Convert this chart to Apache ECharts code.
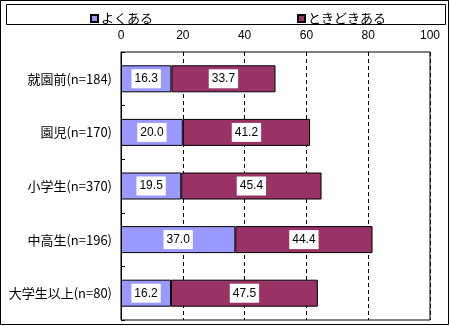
<!DOCTYPE html>
<html><head><meta charset="utf-8">
<script src="https://cdn.jsdelivr.net/npm/echarts@6/dist/echarts.min.js"></script>
<style>html,body{margin:0;padding:0;background:#fff}#c{width:450px;height:326px}</style>
</head><body><div id="c"></div>
<script>
var categories = ['就園前(n=184)', '園児(n=170)', '小学生(n=370)', '中高生(n=196)', '大学生以上(n=80)'];
var seriesNames = ['よくある', 'ときどきある'];
var often = [16.3, 20.0, 19.5, 37.0, 16.2];
var sometimes = [33.7, 41.2, 45.4, 44.4, 47.5];
var xTicks = [0, 20, 40, 60, 80, 100];

var font = '"Noto Sans CJK JP", "Noto Sans", sans-serif';
var chart = echarts.init(document.getElementById('c'), null, {renderer: 'canvas'});
var lbl = {
  show: true, position: 'inside', color: '#000', fontSize: 12, fontFamily: 'Arial, "Liberation Sans", sans-serif',
  backgroundColor: '#fff', padding: [4, 3, 3, 3],
  formatter: function (p) { return p.value.toFixed(1); }
};
chart.setOption({
  animation: false,
  textStyle: {fontFamily: font},
  graphic: [
    {type: 'rect', shape: {x: 0.5, y: 0.5, width: 448, height: 324}, style: {fill: 'none', stroke: '#000', lineWidth: 1}, z: -1},
    {type: 'rect', shape: {x: 6.5, y: 4.5, width: 439, height: 20}, style: {fill: 'none', stroke: '#000', lineWidth: 1}, z: -1}
  ],
  legend: [
    {data: [seriesNames[0]], left: 85, top: 7, itemWidth: 7, itemHeight: 7, icon: 'rect', itemGap: 4,
     textStyle: {color: '#000', fontSize: 13, fontFamily: font, padding: [0, 0, 0, -2]}},
    {data: [seriesNames[1]], left: 292, top: 7, itemWidth: 7, itemHeight: 7, icon: 'rect', itemGap: 4,
     textStyle: {color: '#000', fontSize: 13, fontFamily: font, padding: [0, 0, 0, -2]}}
  ],
  grid: {left: 121, top: 52, width: 309, height: 268, show: true, borderColor: '#000', borderWidth: 1, containLabel: false},
  xAxis: {
    type: 'value', position: 'top', min: 0, max: 100, interval: 20,
    axisLine: {show: false}, axisTick: {show: false},
    axisLabel: {color: '#000', fontSize: 12, margin: 10, fontFamily: 'Arial, "Liberation Sans", sans-serif',
      formatter: function (v) { return xTicks.indexOf(v) >= 0 ? String(v) : ''; }},
    splitLine: {show: true, lineStyle: {color: '#000', type: [4, 3], width: 1}}
  },
  yAxis: {
    type: 'category', inverse: true, data: categories,
    axisLine: {show: true, lineStyle: {color: '#000'}},
    axisTick: {show: true, inside: true, length: 4, lineStyle: {color: '#000'}},
    axisLabel: {color: '#000', fontSize: 13, margin: 9, fontFamily: font}
  },
  series: [
    {name: seriesNames[0], type: 'bar', stack: 's', data: often, barWidth: 27,
     itemStyle: {color: '#9999FF', borderColor: '#000', borderWidth: 1}, label: lbl},
    {name: seriesNames[1], type: 'bar', stack: 's', data: sometimes, barWidth: 27,
     itemStyle: {color: '#993366', borderColor: '#000', borderWidth: 1}, label: lbl}
  ]
});
</script></body></html>
